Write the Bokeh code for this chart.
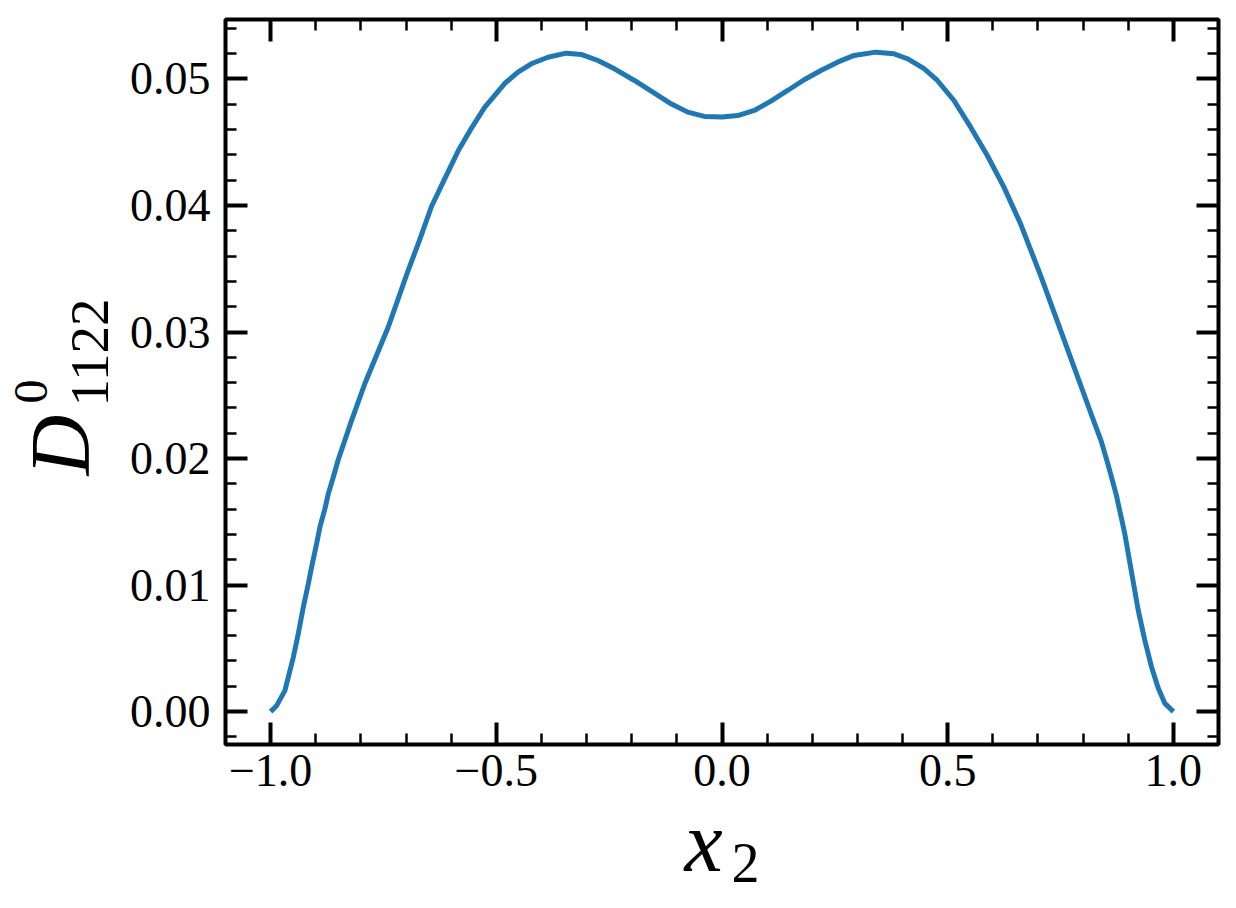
from bokeh.plotting import figure
from bokeh.models import LinearAxis, FixedTicker, CustomJSTickFormatter, Title
from bokeh.embed import file_html
from bokeh.resources import INLINE

# ---- data ----
x2 = [-1.0, -0.9867, -0.9684, -0.9498, -0.9389, -0.9277, -0.9166, -0.9093, -0.8982, -0.8909,
      -0.8798, -0.8723, -0.8613, -0.8502, -0.8208, -0.7914, -0.7655, -0.7396, -0.7175, -0.6954,
      -0.6697, -0.6438, -0.6144, -0.5847, -0.5553, -0.5259, -0.4816, -0.4520, -0.4226, -0.3856,
      -0.3451, -0.3119, -0.2750, -0.2383, -0.1940, -0.1498, -0.1128, -0.0759, -0.0392, 0.0,
      0.0347, 0.0715, 0.1084, 0.1454, 0.1821, 0.2190, 0.2560, 0.2927, 0.3407, 0.3812,
      0.4108, 0.4476, 0.4772, 0.5139, 0.5509, 0.5878, 0.6246, 0.6615, 0.7064, 0.7436,
      0.7808, 0.8179, 0.8400, 0.8549, 0.8734, 0.8920, 0.9069, 0.9219, 0.9367, 0.9516,
      0.9664, 0.9812, 1.0]
d1122 = [0.0, 0.00047, 0.00166, 0.00429, 0.00614, 0.00824, 0.01009, 0.01141, 0.01326, 0.01457,
         0.01602, 0.01721, 0.01852, 0.01990, 0.02300, 0.02591, 0.02814, 0.03038, 0.03262, 0.03486,
         0.03730, 0.03990, 0.04210, 0.04430, 0.04610, 0.04775, 0.04964, 0.05054, 0.05120, 0.05172,
         0.05204, 0.05194, 0.05146, 0.05080, 0.04988, 0.04888, 0.04804, 0.04738, 0.04704, 0.04700,
         0.04711, 0.04751, 0.04825, 0.04909, 0.04994, 0.05067, 0.05133, 0.05186, 0.05212, 0.05199,
         0.05160, 0.05081, 0.04988, 0.04830, 0.04619, 0.04395, 0.04145, 0.03855, 0.03442, 0.03078,
         0.02715, 0.02352, 0.02140, 0.01958, 0.01715, 0.01413, 0.01110, 0.00806, 0.00564, 0.00353,
         0.00186, 0.00065, 0.0]

x_major = [-1.0, -0.5, 0.0, 0.5, 1.0]
x_minor = [round(-1.0 + 0.1 * i, 1) for i in range(21)]
y_major = [0.0, 0.01, 0.02, 0.03, 0.04, 0.05]
y_minor = [round(-0.002 + 0.002 * i, 3) for i in range(29)]

FONT = "Liberation Serif"

p = figure(frame_width=993, frame_height=725,
           x_range=(-1.1, 1.1), y_range=(-0.0026, 0.0547),
           output_backend="svg", toolbar_location=None,
           min_border_left=225, min_border_right=10,
           min_border_top=19, min_border_bottom=156,
           background_fill_color="white", border_fill_color="white",
           outline_line_color="black", outline_line_width=4)
p.xgrid.grid_line_color = None
p.ygrid.grid_line_color = None

xaxis_b = p.below[0]
yaxis_l = p.left[0]
xaxis_t = LinearAxis()
yaxis_r = LinearAxis()
p.add_layout(xaxis_t, "above")
p.add_layout(yaxis_r, "right")

xfmt = CustomJSTickFormatter(code="return tick.toFixed(1).replace('-', '\u2212');")
yfmt = CustomJSTickFormatter(code="return tick.toFixed(2);")
blank = CustomJSTickFormatter(code="return '';")


def style(ax, major, minor, fmt, standoff):
    ax.ticker = FixedTicker(ticks=major, minor_ticks=minor)
    ax.formatter = fmt
    ax.axis_line_color = None
    ax.major_tick_in = 22
    ax.major_tick_out = 0
    ax.major_tick_line_width = 4
    ax.major_tick_line_color = "black"
    ax.minor_tick_in = 11
    ax.minor_tick_out = 0
    ax.minor_tick_line_width = 2.5
    ax.minor_tick_line_color = "black"
    ax.major_label_text_font = FONT
    ax.major_label_text_font_size = "46px"
    ax.major_label_text_color = "black"
    ax.major_label_standoff = standoff


style(xaxis_b, x_major, x_minor, xfmt, 10)
style(xaxis_t, x_major, x_minor, blank, 0)
style(yaxis_l, y_major, y_minor, yfmt, 15)
style(yaxis_r, y_major, y_minor, blank, 0)

p.line(x2, d1122, line_color="#1f77b4", line_width=5)


def spacer(size, at):
    # an axis that only reserves room between label pieces (white, no labels)
    ax = LinearAxis(ticker=FixedTicker(ticks=[at], minor_ticks=[]), formatter=blank)
    ax.axis_line_color = None
    ax.major_tick_line_color = "white"
    ax.major_tick_line_width = 1
    ax.minor_tick_line_color = None
    ax.major_tick_in = 0
    ax.major_tick_out = size
    ax.minor_tick_in = 0
    ax.minor_tick_out = 0
    ax.major_label_standoff = 0
    ax.major_label_text_font_size = "1px"
    return ax


def piece(text, size, style_, offset, valign, standoff):
    return Title(text=text, align="left", offset=offset, vertical_align=valign,
                 standoff=standoff, text_font=FONT, text_font_size=size,
                 text_font_style=style_, text_color="black")


# y label  D^0_1122  (stacked outward from the axis)
p.add_layout(spacer(16, -0.0022), "left")
p.add_layout(piece("1122", "55px", "normal", 338, "top", 1), "left")
p.add_layout(piece("D", "84px", "italic", 269, "top", -74), "left")
p.add_layout(spacer(14, -0.0022), "left")
p.add_layout(piece("0", "48px", "normal", 341, "top", -25), "left")

# x label  x_2
p.add_layout(spacer(28, -1.09), "below")
p.add_layout(piece("x", "86px", "italic", 459, "bottom", -49), "below")
p.add_layout(piece("2", "56px", "normal", 506, "top", -44), "below")

open("out.html", "w").write(file_html(p, INLINE))
